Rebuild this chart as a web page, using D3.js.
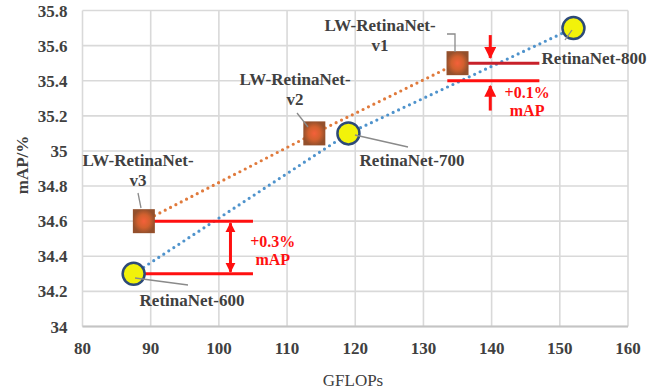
<!DOCTYPE html>
<html>
<head>
<meta charset="utf-8">
<script src="https://cdn.jsdelivr.net/npm/d3@7"></script>
<style>
  body { margin: 0; background: #fff; }
  text { font-family: "Liberation Serif", "Times New Roman", serif; }
</style>
</head>
<body>
<div id="chart"></div>
<script>
// data
var lwNames = ["LW-RetinaNet-v3", "LW-RetinaNet-v2", "LW-RetinaNet-v1"];
var lwGflops = [89, 114, 135];
var lwMap = [34.6, 35.1, 35.5];

var rnNames = ["RetinaNet-600", "RetinaNet-700", "RetinaNet-800"];
var rnGflops = [87.5, 119, 152];
var rnMap = [34.3, 35.1, 35.7];

var xTicks = [80, 90, 100, 110, 120, 130, 140, 150, 160];
var yTicks = [34, 34.2, 34.4, 34.6, 34.8, 35, 35.2, 35.4, 35.6, 35.8];

var margin = { top: 10.5, right: 35, bottom: 65.5, left: 82.5 };
var width = 663 - margin.left - margin.right,
    height = 392 - margin.top - margin.bottom;

var svg = d3.select("#chart").append("svg")
    .attr("width", 663)
    .attr("height", 392);

var defs = svg.append("defs");
var grad = defs.append("radialGradient").attr("id", "sq");
grad.append("stop").attr("offset", "0%").attr("stop-color", "#f4603a");
grad.append("stop").attr("offset", "55%").attr("stop-color", "#d2602e");
grad.append("stop").attr("offset", "100%").attr("stop-color", "#94502c");

var g = svg.append("g")
    .attr("transform", "translate(" + margin.left + "," + margin.top + ")");

var x = d3.scaleLinear().domain([80, 160]).range([0, width]);
var y = d3.scaleLinear().domain([34, 35.8]).range([height, 0]);

// grid
g.selectAll(".vgrid").data(xTicks).enter().append("line")
    .attr("x1", function(d) { return x(d); })
    .attr("x2", function(d) { return x(d); })
    .attr("y1", 0).attr("y2", height)
    .attr("stroke", "#d9d9d9").attr("stroke-width", 1.6);
g.selectAll(".hgrid").data(yTicks).enter().append("line")
    .attr("y1", function(d) { return y(d); })
    .attr("y2", function(d) { return y(d); })
    .attr("x1", 0).attr("x2", width)
    .attr("stroke", "#d9d9d9").attr("stroke-width", 1.6);
g.append("line")
    .attr("x1", 0).attr("x2", width)
    .attr("y1", height).attr("y2", height)
    .attr("stroke", "#c4c4c4").attr("stroke-width", 2);

// tick labels
g.selectAll(".xt").data(xTicks).enter().append("text")
    .attr("x", function(d) { return x(d); })
    .attr("y", height + 27)
    .attr("text-anchor", "middle")
    .attr("font-size", 17).attr("font-weight", "bold")
    .attr("fill", "#404040")
    .text(function(d) { return d; });
g.selectAll(".yt").data(yTicks).enter().append("text")
    .attr("x", -15)
    .attr("y", function(d) { return y(d) + 6; })
    .attr("text-anchor", "end")
    .attr("font-size", 17).attr("font-weight", "bold")
    .attr("fill", "#404040")
    .text(function(d) { return d; });

// axis titles
svg.append("text")
    .attr("x", 353).attr("y", 386)
    .attr("text-anchor", "middle")
    .attr("font-size", 17).attr("fill", "#404040")
    .text("GFLOPs");
svg.append("text")
    .attr("transform", "translate(28,165) rotate(-90)")
    .attr("text-anchor", "middle")
    .attr("font-size", 17).attr("font-weight", "bold")
    .attr("fill", "#404040")
    .text("mAP/%");

// dotted series lines
var lwPts = lwGflops.map(function(d, i) { return [d, lwMap[i]]; });
var rnPts = rnGflops.map(function(d, i) { return [d, rnMap[i]]; });
var line = d3.line()
    .x(function(d) { return x(d[0]); })
    .y(function(d) { return y(d[1]); });

g.append("path").datum(lwPts)
    .attr("d", line).attr("fill", "none")
    .attr("stroke", "#e07a3c").attr("stroke-width", 3.2)
    .attr("stroke-linecap", "round").attr("stroke-dasharray", "0,6");
g.append("path").datum(rnPts)
    .attr("d", line).attr("fill", "none")
    .attr("stroke", "#4f93cc").attr("stroke-width", 3.2)
    .attr("stroke-linecap", "round").attr("stroke-dasharray", "0,6");

// red annotation lines
var red = "#ff1010";
function hline(x1, x2, v, col) {
  g.append("line")
      .attr("x1", x(x1)).attr("x2", x(x2))
      .attr("y1", y(v)).attr("y2", y(v))
      .attr("stroke", col).attr("stroke-width", 3);
}
hline(lwGflops[0], 105, lwMap[0], red);
hline(rnGflops[0], 105, rnMap[0], red);
hline(lwGflops[2], 147, lwMap[2], "#c8202a");
hline(lwGflops[2] - 1.5, 147, 35.4, red);

defs.append("marker").attr("id", "ah")
    .attr("viewBox", "0 0 10 10").attr("refX", 9).attr("refY", 5)
    .attr("markerWidth", 3.4).attr("markerHeight", 3.4)
    .attr("orient", "auto-start-reverse")
  .append("path").attr("d", "M0,0L10,5L0,10Z").attr("fill", red);
defs.append("marker").attr("id", "ahBig")
    .attr("viewBox", "0 0 10 10").attr("refX", 9).attr("refY", 5)
    .attr("markerWidth", 4.5).attr("markerHeight", 4)
    .attr("orient", "auto")
  .append("path").attr("d", "M0,0L10,5L0,10Z").attr("fill", red);

// +0.3% double arrow
g.append("line")
    .attr("x1", x(101.7)).attr("x2", x(101.7))
    .attr("y1", y(lwMap[0]) + 2).attr("y2", y(rnMap[0]) - 2)
    .attr("stroke", red).attr("stroke-width", 3)
    .attr("marker-start", "url(#ah)").attr("marker-end", "url(#ah)");

// +0.1% arrows
g.append("line")
    .attr("x1", x(139.8)).attr("x2", x(139.8))
    .attr("y1", y(35.66)).attr("y2", y(35.53))
    .attr("stroke", red).attr("stroke-width", 3)
    .attr("marker-end", "url(#ahBig)");
g.append("line")
    .attr("x1", x(139.8)).attr("x2", x(139.8))
    .attr("y1", y(35.23)).attr("y2", y(35.37))
    .attr("stroke", red).attr("stroke-width", 3)
    .attr("marker-end", "url(#ahBig)");

function redText(xv, yv, lines) {
  var t = g.append("text")
      .attr("x", x(xv)).attr("y", y(yv))
      .attr("text-anchor", "middle")
      .attr("font-size", 16).attr("font-weight", "bold")
      .attr("fill", red);
  lines.forEach(function(s, i) {
    t.append("tspan").attr("x", x(xv)).attr("dy", i === 0 ? 0 : 18).text(s);
  });
}
redText(107.9, 34.452, ["+0.3%", "mAP"]);
redText(145.2, 35.30, ["+0.1%", "mAP"]);

// leader lines from labels to markers
var leaders = [
  [[138, 193], [141, 208]],
  [[297, 113], [308, 127]],
  [[447, 34], [455, 34], [455, 52]],
  [[135, 278], [188, 285]],
  [[355, 135], [408, 147]],
  [[572, 30], [565, 40]]
];
leaders.forEach(function(p) {
  svg.append("path")
      .attr("d", d3.line()(p))
      .attr("fill", "none").attr("stroke", "#8a8a8a").attr("stroke-width", 1.3);
});

// markers
g.selectAll(".sq").data(lwPts).enter().append("rect")
    .attr("x", function(d) { return x(d[0]) - 11; })
    .attr("y", function(d) { return y(d[1]) - 12; })
    .attr("width", 22).attr("height", 24)
    .attr("fill", "url(#sq)");
g.selectAll(".ci").data(rnPts).enter().append("circle")
    .attr("cx", function(d) { return x(d[0]); })
    .attr("cy", function(d) { return y(d[1]); })
    .attr("r", 11)
    .attr("fill", "#f2f20a")
    .attr("stroke", "#2d4a78").attr("stroke-width", 2.5);

// point labels
var lwLabelPos = [[138, 166], [295, 85], [380, 31]];
lwNames.forEach(function(n, i) {
  var t = svg.append("text")
      .attr("x", lwLabelPos[i][0]).attr("y", lwLabelPos[i][1])
      .attr("text-anchor", "middle")
      .attr("font-size", 17).attr("font-weight", "bold")
      .attr("fill", "#404040");
  var parts = n.split("-");
  t.append("tspan").attr("x", lwLabelPos[i][0]).text(parts[0] + "-" + parts[1] + "-");
  t.append("tspan").attr("x", lwLabelPos[i][0]).attr("dy", 20).text(parts[2]);
});
var rnLabelPos = [[192, 306], [412, 166], [594, 64]];
rnNames.forEach(function(n, i) {
  svg.append("text")
      .attr("x", rnLabelPos[i][0]).attr("y", rnLabelPos[i][1])
      .attr("text-anchor", "middle")
      .attr("font-size", 17).attr("font-weight", "bold")
      .attr("fill", "#404040")
      .text(n);
});
</script>
</body>
</html>
